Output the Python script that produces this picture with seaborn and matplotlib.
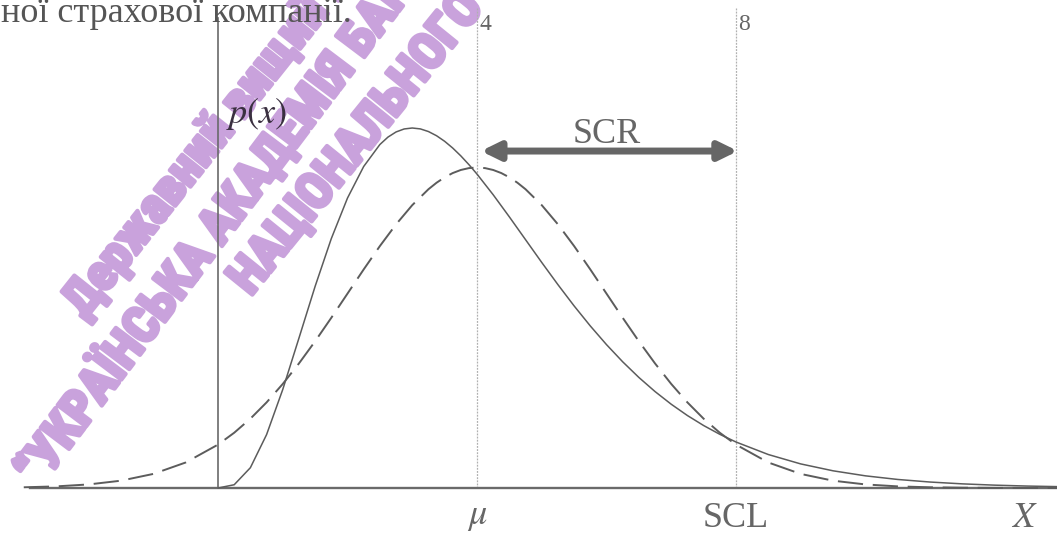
import matplotlib
matplotlib.use("Agg")
import matplotlib.pyplot as plt
import matplotlib.patheffects as pe
import seaborn as sns

# Skewed loss density (solid) and normal density with the same mean (dashed)
skew_x = [0, 0.25, 0.5, 0.75, 1.0, 1.25, 1.5, 1.75, 2.0, 2.25, 2.5, 2.625, 2.75,
          2.875, 3.0, 3.125, 3.25, 3.375, 3.5, 3.625, 3.75, 3.875, 4.0, 4.25, 4.5,
          4.75, 5.0, 5.25, 5.5, 5.75, 6.0, 6.25, 6.5, 6.75, 7.0, 7.25, 7.5, 7.75,
          8.0, 8.5, 9.0, 9.5, 10.0, 10.5, 11.0, 11.5, 12.0, 12.5, 13.0]
skew_p = [0.0, 0.00203, 0.01264, 0.03321, 0.06131, 0.09326, 0.12551, 0.15522,
          0.18045, 0.20009, 0.21376, 0.21838, 0.22158, 0.22344, 0.22404, 0.22348,
          0.22184, 0.21924, 0.21578, 0.21157, 0.20670, 0.20126, 0.19537, 0.18250,
          0.16872, 0.15454, 0.14037, 0.12656, 0.11332, 0.10085, 0.08924, 0.07855,
          0.06881, 0.06002, 0.05213, 0.04510, 0.03889, 0.03342, 0.02863, 0.02083,
          0.01499, 0.01070, 0.00757, 0.00531, 0.00371, 0.00257, 0.00177, 0.00121,
          0.00083]

norm_x = [-3.0, -2.5, -2.0, -1.5, -1.0, -0.5, 0.0, 0.25, 0.5, 0.75, 1.0, 1.25, 1.5,
          1.75, 2.0, 2.25, 2.5, 2.75, 3.0, 3.25, 3.375, 3.5, 3.625, 3.75, 3.875,
          4.0, 4.125, 4.25, 4.375, 4.5, 4.625, 4.75, 5.0, 5.25, 5.5, 5.75, 6.0,
          6.25, 6.5, 6.75, 7.0, 7.25, 7.5, 7.75, 8.0, 8.5, 9.0, 9.5, 10.0, 10.5,
          11.0, 11.5, 12.0, 12.5, 13.0]
norm_p = [0.00044, 0.00101, 0.00222, 0.00455, 0.00876, 0.01587, 0.02700, 0.03439,
          0.04314, 0.05327, 0.06476, 0.07751, 0.09132, 0.10594, 0.12099, 0.13603,
          0.15057, 0.16408, 0.17603, 0.18593, 0.18997, 0.19333, 0.19600, 0.19792,
          0.19908, 0.19947, 0.19908, 0.19792, 0.19600, 0.19333, 0.18997, 0.18593,
          0.17603, 0.16408, 0.15057, 0.13603, 0.12099, 0.10594, 0.09132, 0.07751,
          0.06476, 0.05327, 0.04314, 0.03439, 0.02700, 0.01587, 0.00876, 0.00455,
          0.00222, 0.00101, 0.00044, 0.00018, 0.00007, 0.00002, 0.00001]

mu = 4
scl = 8
x_tick = [5]
y_tick = [0.15]
grid_labels = ["4", "8"]
caption = "ної страхової компанії."
stamp_lines = ["Державний вищий навчальний заклад",
               "“УКРАЇНСЬКА АКАДЕМІЯ БАНКІВСЬКОЇ СПРАВИ",
               "НАЦІОНАЛЬНОГО БАНКУ УКРАЇНИ"]

sns.set_style("white")
plt.rcParams["font.family"] = ["Liberation Serif", "DejaVu Serif"]
plt.rcParams["mathtext.fontset"] = "stix"

INK = "#5c5c5c"
AXIS = "#6a6a6a"

fig = plt.figure(figsize=(10.57, 5.33), dpi=100)
ax = fig.add_axes([0, 0, 1, 1])
ax.set_xlim(-3.367, 12.958)
ax.set_ylim(-0.028, 0.3037)
ax.patch.set_alpha(0)

# stamp across the upper-left part of the page, beneath the plot
stamp_color = "#c9a2dc"
stamp_pos = [(0.080, 0.400, 51.5), (0.037, 0.083, 53), (0.237, 0.443, 51)]
for text, (fx, fy, rot) in zip(stamp_lines, stamp_pos):
    fig.text(fx, fy, text, rotation=rot, rotation_mode="anchor",
             ha="left", va="baseline", color=stamp_color, fontsize=36,
             fontweight="bold", fontfamily=["Roboto Condensed", "DejaVu Sans"],
             zorder=-1,
             path_effects=[pe.withStroke(linewidth=3, foreground=stamp_color)])

# axes through the origin
for side in ("top", "right"):
    ax.spines[side].set_visible(False)
ax.spines["left"].set_position(("data", 0))
ax.spines["bottom"].set_position(("data", 0))
ax.spines["left"].set_bounds(0, 0.2925)
ax.spines["bottom"].set_bounds(-2.9, 12.958)
for side in ("left", "bottom"):
    ax.spines[side].set_color(AXIS)
ax.spines["left"].set_linewidth(1.2)
ax.spines["bottom"].set_linewidth(1.7)
ax.set_xticks(x_tick)
ax.set_yticks(y_tick)
ax.set_xticklabels([])
ax.set_yticklabels([])
ax.tick_params(direction="inout", length=11, width=1.2, color=AXIS)
ax.set_xlabel("")
ax.set_ylabel("")

# reference lines at the mean and the solvency capital level
for gx, lab in zip([mu, scl], grid_labels):
    ax.plot([gx, gx], [0, 0.2987], color="#b0b0b0", lw=0.9,
            linestyle=(0, (1.5, 1)), zorder=1)
    ax.annotate(lab, xy=(gx, 0.2987), xytext=(1.5, -4), textcoords="offset points",
                ha="left", va="top", fontsize=17, color="#666666")

sns.lineplot(x=norm_x, y=norm_p, ax=ax, color=INK, linewidth=1.4,
             linestyle=(0, (13, 5)), zorder=3)
sns.lineplot(x=skew_x, y=skew_p, ax=ax, color=INK, linewidth=1.1, zorder=3)

# SCR span between the mean and SCL
arrow_y = 0.2097
ax.annotate("", xy=(scl + 0.03, arrow_y), xytext=(mu + 0.06, arrow_y),
            arrowprops=dict(arrowstyle="<|-|>,head_length=0.55,head_width=0.27",
                            mutation_scale=20, lw=5, color="#666666",
                            shrinkA=0, shrinkB=0), zorder=4)
ax.text((mu + scl) / 2, 0.2147, "SCR", ha="center", va="baseline",
        fontsize=26, color="#666666")

ax.text(mu, -0.0226, r"$\mu$", ha="center", va="baseline", fontsize=26,
        color="#666666")
ax.text(scl, -0.0243, "SCL", ha="center", va="baseline", fontsize=26,
        color="#666666")
ax.text(12.46, -0.0243, r"$X$", ha="center", va="baseline", fontsize=26,
        color="#666666")
ax.text(0.12, 0.2274, r"$p(x)$", ha="left", va="baseline", fontsize=26,
        color="#3a3040")

fig.text(0.001, 1 - 22 / 533, caption, ha="left", va="baseline", fontsize=26,
         color="#555555")

fig.savefig("out.png", dpi=100)
